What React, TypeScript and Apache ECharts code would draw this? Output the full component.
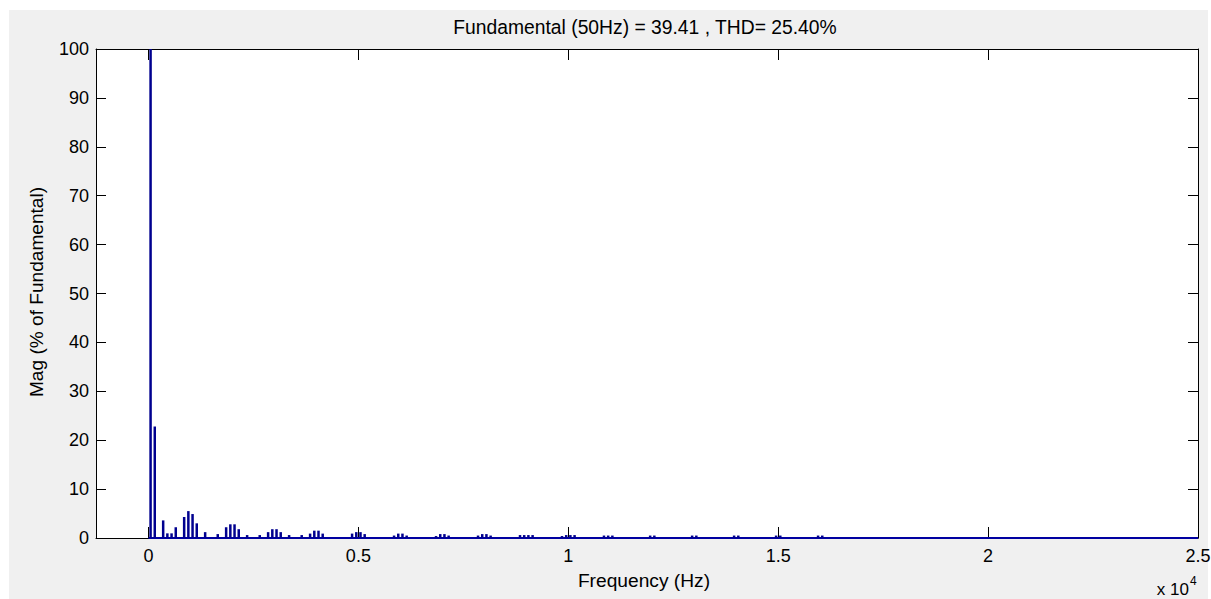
import React, { useEffect, useRef } from "react";
import * as echarts from "echarts";

// Harmonic orders (of 50 Hz fundamental) and their magnitude (% of fundamental)
const fundamentalHz = 50;
const harmonicOrders = [
  1, 3, 7, 9, 11, 13, 17, 19, 21, 23, 27, 33, 37, 39, 41, 43, 47, 53, 57, 59, 61, 63,
  67, 73, 77, 79, 81, 83, 97, 99, 101, 103, 117, 119, 121, 123, 137, 139, 141, 143,
  157, 159, 161, 163, 177, 179, 181, 183, 197, 199, 201, 203, 217, 219, 221, 239, 241,
  259, 261, 279, 281, 299, 301, 319, 321,
];
const magnitudes = [
  100, 22.8, 3.6, 0.95, 0.95, 2.2, 4.3, 5.5, 4.9, 3.0, 1.2, 0.8, 2.2, 2.8, 2.8, 1.8, 0.6, 0.6, 1.2, 1.8, 1.8, 1.2,
  0.6, 0.6, 0.9, 1.5, 1.5, 0.9, 0.9, 1.2, 1.2, 0.8, 0.5, 0.9, 0.9, 0.5, 0.4, 0.8, 0.8, 0.5,
  0.5, 0.8, 0.8, 0.5, 0.6, 0.6, 0.6, 0.6, 0.4, 0.6, 0.6, 0.6, 0.5, 0.5, 0.5, 0.5, 0.5,
  0.5, 0.5, 0.5, 0.5, 0.5, 0.5, 0.5, 0.5,
];
const freqRange = [0, 25000];
const xTickValues = [0, 5000, 10000, 15000, 20000, 25000];
const titleText = "Fundamental (50Hz) = 39.41 , THD= 25.40%";
const xName = "Frequency (Hz)";
const yName = "Mag (% of Fundamental)";

const FONT = "'Liberation Sans', Arial, sans-serif";

export default function App() {
  const ref = useRef<HTMLDivElement>(null);
  useEffect(() => {
    if (!ref.current) return;
    const chart = echarts.init(ref.current, null, { renderer: "svg" });
    const barData = harmonicOrders.map((n, i) => [n * fundamentalHz, magnitudes[i]]);
    const axisCommon = {
      axisLine: { show: true, onZero: false, lineStyle: { color: "#000", width: 1 } },
      splitLine: { show: false },
    };
    chart.setOption({
      animation: false,
      backgroundColor: "#ffffff",
      textStyle: { fontFamily: FONT },
      grid: {
        left: 96,
        top: 49,
        right: 13,
        bottom: 61,
        show: true,
        backgroundColor: "#ffffff",
        borderWidth: 0,
        containLabel: false,
        outerBoundsMode: "none",
      },
      graphic: [
        {
          type: "rect",
          z: -100,
          silent: true,
          shape: { x: 9, y: 10, width: 1199, height: 589 },
          style: { fill: "#f0f0f0" },
        },
        {
          type: "text",
          x: 645,
          y: 27,
          style: {
            text: titleText,
            fontFamily: FONT,
            fontSize: 19.3,
            fill: "#000",
            align: "center",
            verticalAlign: "middle",
          },
        },
        {
          type: "text",
          x: 644,
          y: 580,
          style: {
            text: xName,
            fontFamily: FONT,
            fontSize: 19.2,
            fill: "#000",
            align: "center",
            verticalAlign: "middle",
          },
        },
        {
          type: "text",
          x: 36,
          y: 292,
          rotation: Math.PI / 2,
          style: {
            text: yName,
            fontFamily: FONT,
            fontSize: 19.1,
            fill: "#000",
            align: "center",
            verticalAlign: "middle",
          },
        },
        {
          type: "text",
          x: 1189,
          y: 589,
          style: {
            text: "x 10",
            fontFamily: FONT,
            fontSize: 17,
            fill: "#000",
            align: "right",
            verticalAlign: "middle",
          },
        },
        {
          type: "text",
          x: 1190,
          y: 581,
          style: {
            text: "4",
            fontFamily: FONT,
            fontSize: 12,
            fill: "#000",
            align: "left",
            verticalAlign: "middle",
          },
        },
      ],
      xAxis: [
        {
          type: "value",
          position: "bottom",
          min: -1250,
          max: 25000,
          ...axisCommon,
          axisTick: {
            show: true,
            inside: true,
            length: 11,
            customValues: xTickValues,
            lineStyle: { color: "#000", width: 1 },
          },
          axisLabel: {
            show: true,
            customValues: xTickValues,
            margin: 9,
            fontSize: 18,
            fontFamily: FONT,
            color: "#000",
            formatter: (v: number) => String(v / 10000),
          },
        },
        {
          type: "value",
          position: "top",
          min: -1250,
          max: 25000,
          ...axisCommon,
          axisTick: {
            show: true,
            inside: true,
            length: 11,
            customValues: xTickValues,
            lineStyle: { color: "#000", width: 1 },
          },
          axisLabel: { show: false },
        },
      ],
      yAxis: [
        {
          type: "value",
          position: "left",
          min: 0,
          max: 100,
          interval: 10,
          ...axisCommon,
          axisTick: { show: true, inside: true, length: 10, lineStyle: { color: "#000", width: 1 } },
          axisLabel: { show: true, margin: 7, fontSize: 18, fontFamily: FONT, color: "#000" },
        },
        {
          type: "value",
          position: "right",
          min: 0,
          max: 100,
          interval: 10,
          ...axisCommon,
          axisTick: { show: true, inside: true, length: 10, lineStyle: { color: "#000", width: 1 } },
          axisLabel: { show: false },
        },
      ],
      series: [
        {
          type: "line",
          xAxisIndex: 0,
          yAxisIndex: 0,
          data: freqRange.map((f) => [f, 0]),
          symbol: "none",
          lineStyle: { color: "#0000a0", width: 2 },
          z: 1,
        },
        {
          type: "bar",
          xAxisIndex: 0,
          yAxisIndex: 0,
          data: barData,
          barWidth: 2.5,
          itemStyle: { color: "#00008f" },
          z: 2,
        },
      ],
    });
    return () => chart.dispose();
  }, []);
  return (
    <div
      ref={ref}
      style={{ position: "fixed", left: 0, top: 0, width: 1211, height: 599 }}
    />
  );
}
